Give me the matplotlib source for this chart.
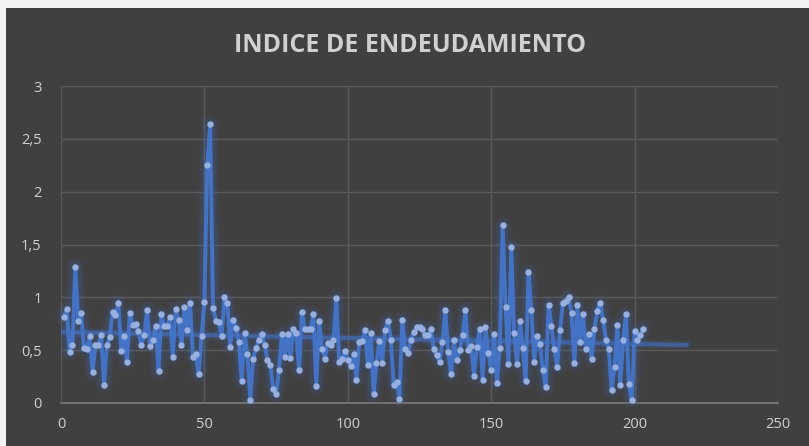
import matplotlib
matplotlib.use("Agg")
import matplotlib.pyplot as plt
from matplotlib.ticker import FuncFormatter
from matplotlib.patches import Rectangle
import numpy as np

title = "INDICE DE ENDEUDAMIENTO"

values = [
    0.81, 0.89, 0.48, 0.55, 1.29, 0.78, 0.85, 0.52, 0.51, 0.63,
    0.29, 0.55, 0.55, 0.64, 0.17, 0.55, 0.62, 0.86, 0.83, 0.95,
    0.49, 0.63, 0.39, 0.85, 0.74, 0.75, 0.68, 0.55, 0.64, 0.88,
    0.54, 0.60, 0.73, 0.30, 0.84, 0.73, 0.73, 0.81, 0.44, 0.89,
    0.79, 0.55, 0.91, 0.69, 0.95, 0.44, 0.46, 0.27, 0.63, 0.96,
    2.25, 2.64, 0.90, 0.78, 0.77, 0.63, 1.00, 0.95, 0.53, 0.79,
    0.71, 0.58, 0.21, 0.66, 0.46, 0.03, 0.42, 0.52, 0.60, 0.65,
    0.55, 0.41, 0.36, 0.13, 0.085, 0.31, 0.65, 0.44, 0.65, 0.43,
    0.70, 0.66, 0.31, 0.86, 0.70, 0.70, 0.70, 0.84, 0.16, 0.78,
    0.51, 0.42, 0.57, 0.55, 0.60, 0.99, 0.39, 0.42, 0.49, 0.41,
    0.35, 0.46, 0.22, 0.58, 0.59, 0.69, 0.36, 0.66, 0.085, 0.375,
    0.59, 0.38, 0.69, 0.78, 0.60, 0.17, 0.20, 0.04, 0.79, 0.51,
    0.47, 0.60, 0.67, 0.72, 0.72, 0.70, 0.64, 0.64, 0.70, 0.51,
    0.45, 0.39, 0.58, 0.88, 0.48, 0.27, 0.60, 0.41, 0.50, 0.64,
    0.88, 0.50, 0.54, 0.26, 0.53, 0.70, 0.22, 0.72, 0.47, 0.31,
    0.65, 0.19, 0.52, 1.68, 0.91, 0.37, 1.48, 0.66, 0.37, 0.78,
    0.52, 0.21, 1.24, 0.88, 0.39, 0.63, 0.56, 0.31, 0.15, 0.93,
    0.73, 0.51, 0.34, 0.69, 0.95, 0.97, 1.00, 0.85, 0.38, 0.93,
    0.58, 0.84, 0.51, 0.65, 0.42, 0.70, 0.87, 0.95, 0.79, 0.60,
    0.51, 0.12, 0.34, 0.74, 0.17, 0.60, 0.84, 0.18, 0.03, 0.68,
    0.60, 0.64, 0.70,
]
x_values = list(range(1, len(values) + 1))
trend_forward = 15

x_ticks = [0, 50, 100, 150, 200, 250]
y_ticks = [0, 0.5, 1, 1.5, 2, 2.5, 3]

BG = "#404040"
BLUE = "#4472C4"
MARK = "#98B0E0"
TXT = "#D0D0D0"
GRID = "#5A5A5A"

fig = plt.figure(figsize=(8.09, 4.46), dpi=100, facecolor=BG)
# light border strips at top and left
fig.patches.append(Rectangle((0, 1 - 8 / 446), 1, 8 / 446, transform=fig.transFigure,
                             facecolor="#F2F2F2", edgecolor="none", zorder=5))
fig.patches.append(Rectangle((0, 0), 6 / 809, 1, transform=fig.transFigure,
                             facecolor="#F2F2F2", edgecolor="none", zorder=5))

ax = fig.add_axes([61 / 809, 1 - 403 / 446, (778 - 61) / 809, (403 - 86) / 446])
ax.set_facecolor(BG)
ax.set_xlim(0, 250)
ax.set_ylim(0, 3)
ax.set_xticks(x_ticks)
ax.set_yticks(y_ticks)
fmt = FuncFormatter(lambda v, p: ("%g" % v).replace(".", ","))
ax.xaxis.set_major_formatter(fmt)
ax.yaxis.set_major_formatter(fmt)
ax.tick_params(length=0, colors=TXT, labelsize=10.5, pad=10)
ax.tick_params(axis="y", pad=14)
for lab in ax.get_xticklabels() + ax.get_yticklabels():
    lab.set_fontfamily("Open Sans")
ax.grid(True, color=GRID, linewidth=1.0, zorder=0)
ax.set_axisbelow(True)
for s in ["top", "right", "left"]:
    ax.spines[s].set_visible(False)
ax.spines["bottom"].set_color("#7A7A7A")
ax.spines["bottom"].set_linewidth(1.2)

x = np.array(x_values, dtype=float)
y = np.array(values, dtype=float)

# glow
for lw, a in [(13, 0.06), (10, 0.08), (7, 0.12)]:
    ax.plot(x, y, color=BLUE, lw=lw, alpha=a, solid_joinstyle="round",
            solid_capstyle="round", zorder=2, clip_on=False)
ax.plot(x, y, color=BLUE, lw=2.8, zorder=3, solid_joinstyle="round")
ax.plot(x, y, linestyle="none", marker="o", markersize=4.6, markerfacecolor=MARK,
        markeredgecolor="none", zorder=4)

# linear trend line
coef = np.polyfit(x, y, 1)
tx = np.array([0, x[-1] + trend_forward])
ty = np.polyval(coef, tx)
ax.plot(tx, ty, color=BLUE, lw=6, alpha=0.15, zorder=2)
ax.plot(tx, ty, color=BLUE, lw=3, alpha=0.6, zorder=2)

fig.text(410 / 809, 1 - 45 / 446, title, ha="center", va="center",
         fontsize=18, fontweight="bold", color=TXT, family="Open Sans")

fig.savefig("out.png", dpi=100, facecolor=BG)
